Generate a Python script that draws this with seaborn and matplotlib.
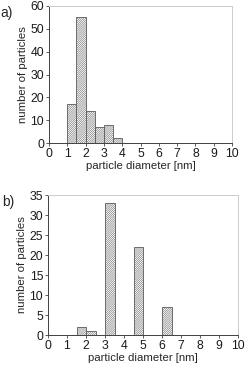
import numpy as np
import pandas as pd
import matplotlib
matplotlib.use("Agg")
import matplotlib.pyplot as plt
import seaborn as sns

# bin centres (nm) and counts
centers_a = [1.25, 1.75, 2.25, 2.75, 3.25, 3.75]
counts_a = [17, 55, 14, 7, 8, 2]
centers_b = [1.75, 2.25, 3.25, 4.75, 6.25]
counts_b = [2, 1, 33, 22, 7]

xticks = list(range(0, 11))

sns.set_style("white")
plt.rcParams['font.family'] = ['Liberation Sans', 'DejaVu Sans']
plt.rcParams['hatch.linewidth'] = 0.35
plt.rcParams['hatch.color'] = '0.5'

fig = plt.figure(figsize=(2.46, 3.65), dpi=100)
ax_a = fig.add_axes([49/246, 1 - 143/365, (232-49)/246, (143-6)/365])
ax_b = fig.add_axes([48/246, 1 - 335/365, (238-48)/246, (335-195)/365])


def panel(ax, centers, counts, ymax, ystep, tag, tagx):
    df = pd.DataFrame({'d': centers, 'n': counts})
    sns.histplot(data=df, x='d', weights='n', binwidth=0.5, binrange=(0, 10),
                 ax=ax, color='white', edgecolor='0.35', linewidth=0.6,
                 hatch='/' * 16, alpha=1)
    ax.set_xlim(0, 10)
    ax.set_ylim(0, ymax)
    ax.set_xticks(xticks)
    ax.set_yticks(np.arange(0, ymax + 1, ystep))
    ax.set_xlabel('particle diameter [nm]', fontsize=8.2, labelpad=1,
                  color='0.15')
    ax.set_ylabel('number of particles', fontsize=8.2, labelpad=2,
                  color='0.15')
    ax.tick_params(axis='both', labelsize=8.8, length=2.5, width=0.6,
                   direction='out', pad=1, bottom=True, left=True,
                   labelcolor='0.1', color='0.25')
    for s in ['left', 'bottom']:
        ax.spines[s].set_color('0.25')
        ax.spines[s].set_linewidth(0.7)
    for s in ['top', 'right']:
        ax.spines[s].set_color('0.8')
        ax.spines[s].set_linewidth(0.7)
    ax.text(tagx, 1.0, tag, transform=ax.transAxes, fontsize=10,
            ha='left', va='top')


panel(ax_a, centers_a, counts_a, 60, 10, 'a)', -49/183)
panel(ax_b, centers_b, counts_b, 35, 5, 'b)', -46/190)

fig.savefig('out.png', dpi=100)
